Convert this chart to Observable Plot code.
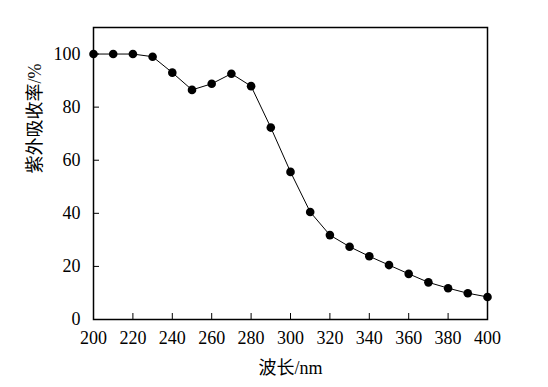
<!DOCTYPE html>
<html><head><meta charset="utf-8">
<script src="https://cdn.jsdelivr.net/npm/d3@7"></script>
<script src="https://cdn.jsdelivr.net/npm/@observablehq/plot@0.6"></script>
<style>
html,body{margin:0;padding:0;background:#fff;}
</style>
</head><body>
<div id="chart"></div>
<script>
const wavelength = [200,210,220,230,240,250,260,270,280,290,300,310,320,330,340,350,360,370,380,390,400];
const absorb = [100,100,100,99.0,93.0,86.5,88.8,92.6,87.9,72.3,55.6,40.5,31.8,27.4,23.8,20.5,17.2,14.0,11.8,9.9,8.5];
const xTicks = [200,220,240,260,280,300,320,340,360,380,400];
const yTicks = [0,20,40,60,80,100];
const xLabel = "波长/nm";
const yLabel = "紫外吸收率/%";

const data = wavelength.map((w,i)=>({w, a: absorb[i]}));
const font = "'Liberation Serif', 'Times New Roman', 'Noto Sans CJK SC', serif";

const chart = Plot.plot({
  width: 548, height: 387,
  marginLeft: 93, marginRight: 61, marginTop: 27, marginBottom: 68,
  style: {fontFamily: font, fontSize: "18px", color: "#000", background: "#fff"},
  x: {domain: [200,400]},
  y: {domain: [0,110]},
  marks: [
    Plot.frame({stroke: "#000", strokeWidth: 1.5}),
    Plot.axisX({ticks: xTicks, tickSize: -6, tickPadding: 18, tickFormat: d=>String(d), label: null, fontSize: 18}),
    Plot.axisY({ticks: yTicks, tickSize: -6, tickPadding: 19, tickFormat: d=>String(d), label: null, fontSize: 18}),
    Plot.line(data, {x: "w", y: "a", stroke: "#000", strokeWidth: 1}),
    Plot.dot(data, {x: "w", y: "a", r: 4.3, fill: "#000", stroke: "none"}),
    Plot.text([xLabel], {frameAnchor: "bottom", dy: 54, text: d=>d, fontSize: 18, fontFamily: font, fill: "#000"}),
    Plot.text([yLabel], {frameAnchor: "left", dx: -58, rotate: -90, text: d=>d, fontSize: 18, fontFamily: font, fill: "#000"})
  ]
});
document.getElementById("chart").appendChild(chart);
</script>
</body></html>
